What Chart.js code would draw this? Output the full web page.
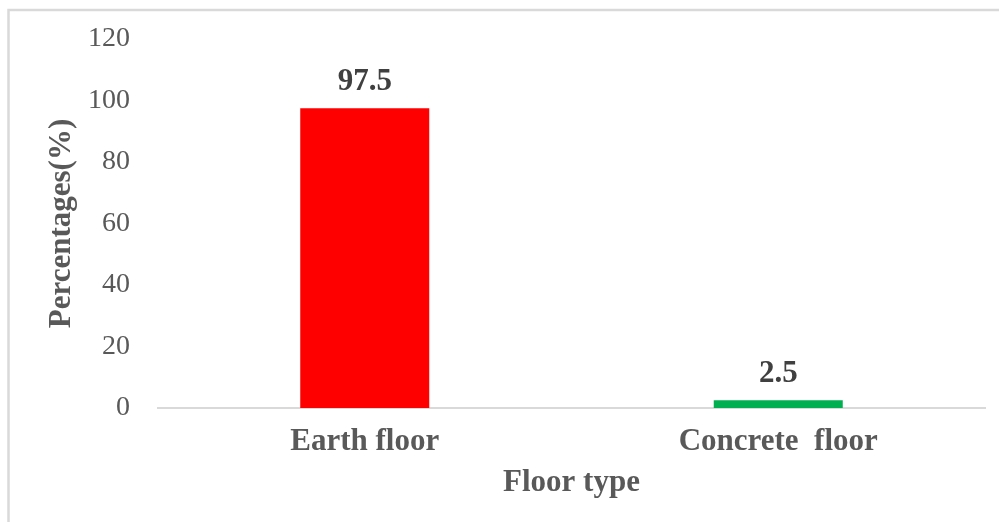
<!DOCTYPE html>
<html>
<head>
<meta charset="utf-8">
<script src="https://cdn.jsdelivr.net/npm/chart.js@4/dist/chart.umd.min.js"></script>
<style>
  html, body { margin: 0; padding: 0; background: #ffffff; }
  canvas { display: block; }
</style>
</head>
<body>
<canvas id="chart" width="999" height="522"></canvas>
<script>
// Floor type distribution (%)
const categories = ['Earth floor', 'Concrete  floor'];
const percentages = [97.5, 2.5];
const barColors = ['#ff0000', '#00b050'];
const yTicks = [0, 20, 40, 60, 80, 100, 120];

const serif = '"Liberation Serif", "Times New Roman", serif';
const axisGray = '#595959';

// Light frame around the figure
const framePlugin = {
  id: 'frame',
  beforeDraw(chart) {
    const ctx = chart.ctx;
    ctx.save();
    ctx.fillStyle = '#ffffff';
    ctx.fillRect(0, 0, chart.width, chart.height);
    ctx.strokeStyle = '#d9d9d9';
    ctx.lineWidth = 2.5;
    ctx.strokeRect(8.5, 10, chart.width + 20, chart.height + 20);
    ctx.restore();
  }
};

// Value labels above each bar
const valueLabelPlugin = {
  id: 'valueLabels',
  afterDatasetsDraw(chart) {
    const ctx = chart.ctx;
    const meta = chart.getDatasetMeta(0);
    ctx.save();
    ctx.font = 'bold 31px ' + serif;
    ctx.fillStyle = '#404040';
    ctx.textAlign = 'center';
    ctx.textBaseline = 'middle';
    meta.data.forEach((bar, i) => {
      ctx.fillText(String(percentages[i]), bar.x, bar.y - 26);
    });
    ctx.restore();
  }
};

new Chart(document.getElementById('chart'), {
  type: 'bar',
  data: {
    labels: categories,
    datasets: [{
      data: percentages,
      backgroundColor: barColors,
      borderWidth: 0,
      barPercentage: 0.312,
      categoryPercentage: 1.0
    }]
  },
  options: {
    responsive: false,
    animation: false,
    devicePixelRatio: 1,
    layout: { padding: { top: 39, right: 14, bottom: 0, left: 0 } },
    plugins: {
      legend: { display: false },
      tooltip: { enabled: false }
    },
    scales: {
      x: {
        grid: { display: false, drawTicks: false },
        border: { display: true, color: '#d9d9d9', width: 2 },
        ticks: {
          color: axisGray,
          padding: 15,
          font: { family: serif, size: 31, weight: 'bold' }
        },
        title: {
          display: true,
          text: 'Floor type',
          color: axisGray,
          font: { family: serif, size: 31, weight: 'bold' },
          padding: { top: 0, bottom: 20 }
        },
        afterFit(scale) { scale.height = 114; }
      },
      y: {
        min: 0,
        max: 120,
        afterBuildTicks(scale) { scale.ticks = yTicks.map(v => ({ value: v })); },
        grid: { display: false, drawTicks: false },
        border: { display: false },
        ticks: {
          color: axisGray,
          padding: 28,
          font: { family: serif, size: 28 }
        },
        title: {
          display: true,
          text: 'Percentages(%)',
          color: axisGray,
          font: { family: serif, size: 31, weight: 'bold' },
          padding: { top: 43, bottom: 0 }
        },
        afterFit(scale) {
          scale.width = 158;
          // the label gap is horizontal only; keep vertical padding to half a label
          scale.paddingTop = 17;
          scale.paddingBottom = 17;
        }
      }
    }
  },
  plugins: [framePlugin, valueLabelPlugin]
});
</script>
</body>
</html>
